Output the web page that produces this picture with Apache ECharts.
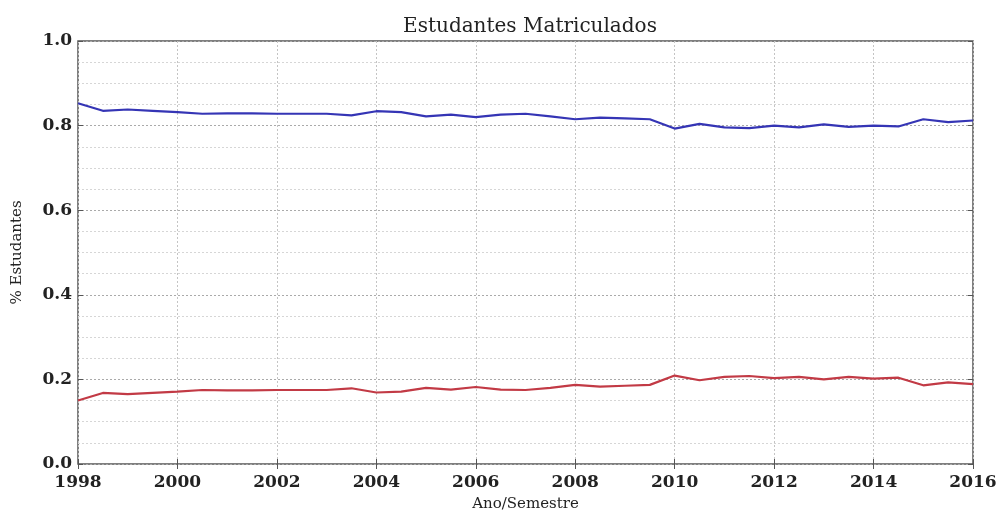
<!DOCTYPE html>
<html><head><meta charset="utf-8">
<script src="https://cdn.jsdelivr.net/npm/echarts@6/dist/echarts.min.js"></script>
<style>html,body{margin:0;padding:0;background:#fff}#c{width:997px;height:513px}</style>
</head><body><div id="c"></div>
<script>
const semesters = [1998,1998.5,1999,1999.5,2000,2000.5,2001,2001.5,2002,2002.5,2003,2003.5,2004,2004.5,2005,2005.5,2006,2006.5,2007,2007.5,2008,2008.5,2009,2009.5,2010,2010.5,2011,2011.5,2012,2012.5,2013,2013.5,2014,2014.5,2015,2015.5,2016];
const blueValues = [0.853,0.835,0.838,0.835,0.832,0.828,0.829,0.829,0.828,0.828,0.828,0.824,0.834,0.832,0.822,0.826,0.820,0.826,0.828,0.822,0.815,0.819,0.817,0.815,0.793,0.804,0.796,0.794,0.800,0.796,0.803,0.797,0.800,0.798,0.815,0.808,0.812];
const redValues = [0.150,0.168,0.165,0.168,0.171,0.175,0.174,0.174,0.175,0.175,0.175,0.179,0.169,0.171,0.180,0.176,0.182,0.176,0.175,0.180,0.187,0.183,0.185,0.187,0.209,0.198,0.206,0.208,0.203,0.206,0.200,0.206,0.202,0.204,0.186,0.193,0.189];
const xTicks = [1998,2000,2002,2004,2006,2008,2010,2012,2014,2016];

const font = 'DejaVu Serif';
const chart = echarts.init(document.getElementById('c'));
const pairs = (vals) => semesters.map((s,i)=>[s, vals[i]]);
chart.setOption({
  animation:false,
  title:{text:'Estudantes Matriculados', left:525, top:12, textAlign:'center',
    textStyle:{fontFamily:font, fontSize:20, fontWeight:'normal', color:'#222'}},
  grid:{left:78, right:24, top:41, bottom:49, outerBoundsMode:'none', containLabel:false,
    show:true, borderColor:'#555', borderWidth:1.5, backgroundColor:'transparent'},
  xAxis:[{type:'value', min:1998, max:2016, interval:2,
    name:'Ano/Semestre', nameLocation:'middle', nameGap:33,
    nameTextStyle:{fontFamily:font, fontSize:15, color:'#222'},
    axisLine:{show:false}, axisTick:{inside:true, length:5, lineStyle:{color:'#555'}},
    axisLabel:{fontFamily:font, fontSize:17, fontWeight:'bold', color:'#222', margin:10, formatter:v=>String(v)},
    splitLine:{show:true, lineStyle:{color:'#c4c4c4', type:[2,2], width:1}}},
   {type:'value', position:'top', min:1998, max:2016, interval:2,
    axisLine:{show:false}, axisTick:{inside:true, length:5, lineStyle:{color:'#555'}},
    axisLabel:{show:false}, splitLine:{show:false}}],
  yAxis:[{type:'value', min:0, max:1, interval:0.2,
    name:'% Estudantes', nameLocation:'middle', nameGap:53, nameRotate:90,
    nameTextStyle:{fontFamily:font, fontSize:15, color:'#222'},
    axisLine:{show:false}, axisTick:{inside:true, length:5, lineStyle:{color:'#555'}},
    axisLabel:{fontFamily:font, fontSize:17, fontWeight:'bold', color:'#222', margin:6, formatter:v=>v.toFixed(1)},
    minorTick:{show:false, splitNumber:4},
    minorSplitLine:{show:true, lineStyle:{color:'#d6d6d6', type:[2,2], width:1}},
    splitLine:{show:true, lineStyle:{color:'#aaa', type:[2,2], width:1}}},
   {type:'value', position:'right', min:0, max:1, interval:0.2,
    axisLine:{show:false}, axisTick:{inside:true, length:5, lineStyle:{color:'#555'}},
    axisLabel:{show:false}, splitLine:{show:false}}],
  series:[
    {type:'line', data:pairs(blueValues), showSymbol:false, lineStyle:{color:'#3535b5', width:2.2}},
    {type:'line', data:pairs(redValues), showSymbol:false, lineStyle:{color:'#c23a45', width:2.2}}
  ]
});
</script></body></html>
